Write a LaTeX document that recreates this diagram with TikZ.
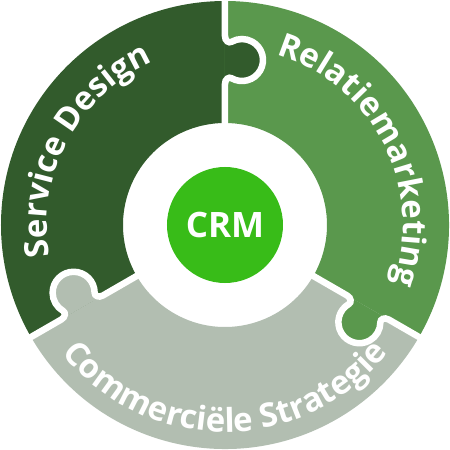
\documentclass[tikz,border=0pt]{standalone}
\usepackage{fontspec}
\usepackage{tikz}
\usetikzlibrary{decorations.text}
\newfontfamily\labelfont{Open Sans}
\definecolor{sdgreen}{RGB}{50,91,44}
\definecolor{rmgreen}{RGB}{90,152,77}
\definecolor{csgrey}{RGB}{178,190,177}
\definecolor{crmgreen}{RGB}{56,188,24}

\begin{document}
\begin{tikzpicture}[x=1pt,y=1pt,
            gap/.style={draw=white,line width=6.5pt},
            ringtext/.style={decorate,decoration={text along path,text align=center,
                text={|\labelfont\bfseries\fontsize{33}{40}\selectfont\color{white}|#1}}},
            every node/.style={inner sep=0pt}]
            \fill[white] (-225,-225) rectangle (225,225);
            \useasboundingbox (-225,-225) rectangle (225,225);

            \fill[sdgreen] (90:224) arc[start angle=90,end angle=210,radius=224]
                -- (210:102) arc[start angle=210,end angle=90,radius=102] -- cycle;
            \fill[csgrey] (210:224) arc[start angle=210,end angle=330,radius=224]
                -- (330:102) arc[start angle=330,end angle=210,radius=102] -- cycle;
            \fill[rmgreen] (330:224) arc[start angle=330,end angle=450,radius=224]
                -- (90:102) arc[start angle=90,end angle=-30,radius=102] -- cycle;

            \foreach \ang/\col in {90/sdgreen,210/csgrey,330/rmgreen}{
                \begin{scope}[rotate=\ang]
                    \fill[\col] (141,0) .. controls (146,0) and (148.3,-3.9) .. (146.8,-6.5)
                        arc[start angle=150,end angle=390,radius=21]
                        .. controls (181.7,-3.9) and (184,0) .. (189,0) -- cycle;
                    \draw[gap] (95,0) -- (141,0) .. controls (146,0) and (148.3,-3.9) .. (146.8,-6.5)
                        arc[start angle=150,end angle=390,radius=21]
                        .. controls (181.7,-3.9) and (184,0) .. (189,0) -- (232,0);
                \end{scope}
            }

            \node[circle,fill=crmgreen,minimum size=116pt,text=white,
                font=\labelfont\bfseries\fontsize{35}{40}\selectfont] (crm) at (0,0) {CRM};

            \path[ringtext={Service Design}] (212:178) arc[start angle=212,end angle=92,radius=178];
            \path[ringtext={Relatiemarketing}] (87:178) arc[start angle=87,end angle=-33,radius=178];
            \path[ringtext={Commerciële Strategie}] (200:207) arc[start angle=200,end angle=340,radius=207];
        \end{tikzpicture}
\end{document}
